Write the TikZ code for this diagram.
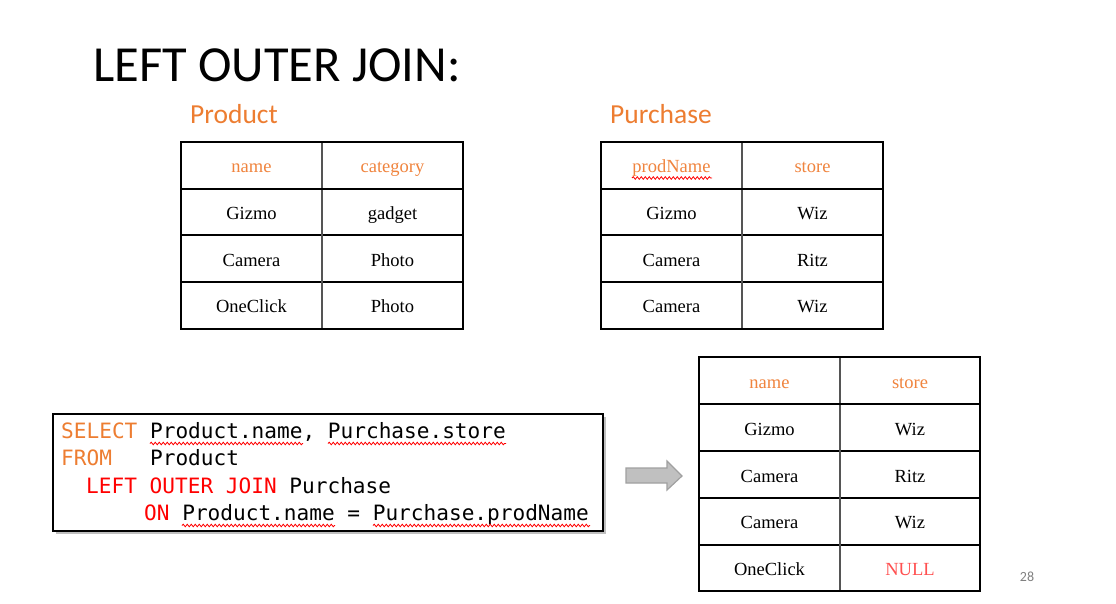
\documentclass[tikz,border=0pt]{standalone}
\usepackage{fontspec}
\setmainfont{Carlito}
\newfontfamily\tabfont{Liberation Serif}
\newfontfamily\codefont{DejaVu Sans Mono}
\usetikzlibrary{decorations.pathmorphing}
\definecolor{ttlorange}{RGB}{237,125,49}
\definecolor{hdrorange}{RGB}{240,132,62}
\definecolor{kwred}{RGB}{255,0,0}
\definecolor{nullred}{RGB}{255,80,80}
\definecolor{divgray}{RGB}{85,85,85}
\definecolor{arrfill}{RGB}{192,192,192}
\definecolor{arrline}{RGB}{160,160,160}
\tikzset{
  cell/.style={anchor=base, inner sep=0pt, font=\tabfont\fontsize{18.5}{22}\selectfont},
  hcell/.style={cell, text=hdrorange},
  outerline/.style={line width=2.6pt, line join=miter},
  rowline/.style={line width=1.2pt},
  colline/.style={line width=1.8pt, draw=divgray},
  code/.style={anchor=base west, inner sep=0pt, font=\codefont\fontsize{21.1}{27}\selectfont},
  spell/.style={draw=kwred, line width=0.8pt, decorate, decoration={snake, amplitude=1.3pt, segment length=4pt}},
  tlabel/.style={anchor=base west, inner sep=0pt, text=ttlorange, font=\fontsize{27.5}{32}\selectfont}
}
\begin{document}
\begin{tikzpicture}[x=1pt,y=-1pt]
\useasboundingbox (0,0) rectangle (1116,604);
\fill[white] (0,0) rectangle (1116,604);

% title
\node[anchor=base west, inner sep=0pt, font=\fontsize{50.5}{60}\selectfont] (title) at (93,82) {LEFT OUTER JOIN:};
\node[tlabel] (lprod) at (190,124) {Product};
\node[tlabel] (lpurch) at (610,124) {Purchase};

% Product table
\draw[rowline] (181,235) -- (463,235) (181,282) -- (463,282);
\draw[colline] (322,142) -- (322,329);
\draw[outerline] (181,189) -- (463,189);
\draw[outerline] (181,142) rectangle (463,329);
\node[hcell] (p-h1) at (251.5,172.5) {name};
\node[hcell] (p-h2) at (392.5,172.5) {category};
\node[cell] (p-11) at (251.5,219.5) {Gizmo};
\node[cell] (p-12) at (392.5,219.5) {gadget};
\node[cell] (p-21) at (251.5,266) {Camera};
\node[cell] (p-22) at (392.5,266) {Photo};
\node[cell] (p-31) at (251.5,312.5) {OneClick};
\node[cell] (p-32) at (392.5,312.5) {Photo};

% Purchase table
\draw[rowline] (601,235) -- (883,235) (601,282) -- (883,282);
\draw[colline] (742,142) -- (742,329);
\draw[outerline] (601,189) -- (883,189);
\draw[outerline] (601,142) rectangle (883,329);
\node[hcell] (q-h1) at (671.5,172.5) {prodName};
\node[hcell] (q-h2) at (812.5,172.5) {store};
\node[cell] (q-11) at (671.5,219.5) {Gizmo};
\node[cell] (q-12) at (812.5,219.5) {Wiz};
\node[cell] (q-21) at (671.5,266) {Camera};
\node[cell] (q-22) at (812.5,266) {Ritz};
\node[cell] (q-31) at (671.5,312.5) {Camera};
\node[cell] (q-32) at (812.5,312.5) {Wiz};
\draw[spell] (632,178) -- (712,178);

% Result table
\draw[rowline] (699,451) -- (980,451) (699,498) -- (980,498) (699,545) -- (980,545);
\draw[colline] (840,357) -- (840,591);
\draw[outerline] (699,404) -- (980,404);
\draw[outerline] (699,357) rectangle (980,591);
\node[hcell] (r-h1) at (769.5,388.5) {name};
\node[hcell] (r-h2) at (910,388.5) {store};
\node[cell] (r-11) at (769.5,435.5) {Gizmo};
\node[cell] (r-12) at (910,435.5) {Wiz};
\node[cell] (r-21) at (769.5,482.5) {Camera};
\node[cell] (r-22) at (910,482.5) {Ritz};
\node[cell] (r-31) at (769.5,528.5) {Camera};
\node[cell] (r-32) at (910,528.5) {Wiz};
\node[cell] (r-41) at (769.5,575.5) {OneClick};
\node[cell, text=nullred] (r-42) at (910,575.5) {NULL};

% SQL box
\fill[black!25] (56,417) rectangle (606,534);
\draw[line width=2pt, fill=white] (53,414) rectangle (603,531);
\node[code] (c1) at (61,438) {\textcolor{ttlorange}{SELECT} Product.name, Purchase.store};
\node[code] (c2) at (61,465) {\textcolor{ttlorange}{FROM}\ \ \ Product};
\node[code] (c3) at (86,493) {\textcolor{kwred}{LEFT OUTER JOIN} Purchase};
\node[code] (c4) at (144,520) {\textcolor{kwred}{ON} Product.name = Purchase.prodName};
\draw[spell] (150,443.5) -- (303,443.5);
\draw[spell] (328,443.5) -- (506,443.5);
\draw[spell] (182,525.5) -- (335,525.5);
\draw[spell] (373,525.5) -- (590,525.5);

% block arrow
\draw[fill=arrfill, draw=arrline, line width=1.2pt, line join=miter]
  (626,468) -- (667,468) -- (667,461) -- (682,476) -- (667,490) -- (667,483) -- (626,483) -- cycle;

% page number
\node[anchor=base, inner sep=0pt, text=black!50, font=\fontsize{14}{16}\selectfont] (pnum) at (1027,581) {28};
\end{tikzpicture}
\end{document}
